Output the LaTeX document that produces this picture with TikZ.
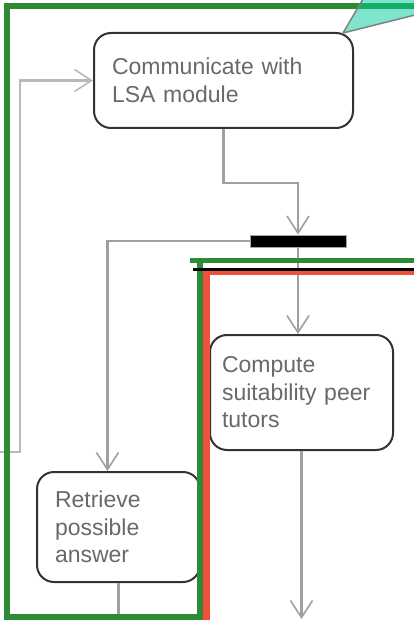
\documentclass[tikz,border=0pt]{standalone}
\usepackage{fontspec}
\setmainfont{Liberation Sans}
\usetikzlibrary{arrows.meta}
\definecolor{flowgray}{RGB}{160,160,160}
\definecolor{lightflow}{RGB}{185,185,185}
\definecolor{lanegreen}{RGB}{46,139,53}
\definecolor{lanered}{RGB}{240,80,60}
\definecolor{noteteal}{RGB}{0,205,155}
\definecolor{boxline}{RGB}{50,50,50}
\definecolor{labelgray}{RGB}{105,105,105}
\begin{document}
\begin{tikzpicture}[
    x=1pt, y=-1pt,
    line cap=butt,
    line join=miter,
    activity/.style={draw=boxline, fill=white, line width=2pt, rounded corners=17pt,
      text=labelgray, align=left, anchor=center, inner ysep=0pt,
      font=\fontsize{23}{27.5}\selectfont},
    forkbar/.style={fill=black, draw=black!35, line width=1pt, minimum width=96pt,
      minimum height=12pt, inner sep=0pt},
    flow/.style={draw=flowgray, line width=2.5pt,
      -{Straight Barb[length=17pt, width=22pt, line width=1.6pt]}},
    flowplain/.style={draw=flowgray, line width=2.5pt},
    lane/.style={draw=lanegreen, line width=6pt},
    note/.style={fill=noteteal, fill opacity=0.5, draw=gray, line width=1.5pt, draw opacity=1}
]
\useasboundingbox (0,0) rectangle (414,620);

\node[activity, minimum width=259pt, minimum height=95pt, inner xsep=18pt,
      text width=223pt] (comm) at (223.5,80.5) {Communicate with\\LSA module};
\node[forkbar] (fork) at (298,241) {};
\node[activity, minimum width=183pt, minimum height=115pt, inner xsep=12pt,
      text width=159pt] (comp) at (301.5,392.5) {Compute\\suitability peer\\tutors};
\node[activity, minimum width=163pt, minimum height=110pt, inner xsep=18pt,
      text width=127pt] (retr) at (118.5,527) {Retrieve\\possible\\answer};

\coordinate (lsain) at (0,452);
\coordinate (compout) at (300,619);
\coordinate (retrout) at (120,617);

\draw[flow, draw=lightflow] (lsain) -- ++(20,0) |- (comm.west);
\draw[flow] (comm.south) -- ++(0,54) -| (fork.north);
\draw[flow] (fork.west) -| ([xshift=-11pt]retr.north);
\draw[flow] (fork.south) -- (fork.south |- comp.north);
\draw[flow] (comp.south) -- (comp.south |- compout);
\draw[flowplain] (retr.south) -- (retr.south |- retrout);

% swimlane borders
\draw[lane] (7,620) -- (7,6) -- (414,6);
\draw[lane] (4,617) -- (200,617) -- (200,260);
\draw[lane, line width=5pt] (190,260.5) -- (414,260.5);
\draw[draw=lanered, line width=7pt] (206.5,620) -- (206.5,271.5) -- (414,271.5);
\draw[draw=black, line width=2.5pt] (193,269.5) -- (414,269.5);

\filldraw[note] (343,33) -- (363,-1) -- (415,-1) -- (415,15) -- cycle;
\end{tikzpicture}
\end{document}
